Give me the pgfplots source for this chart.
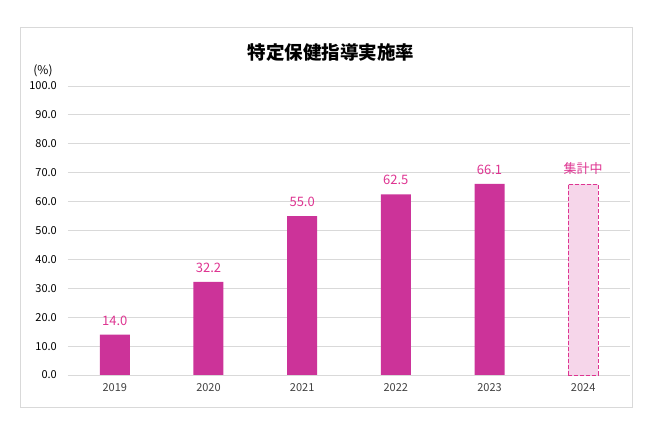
\documentclass[border=0pt]{standalone}
\usepackage{pgfplots}
\pgfplotsset{compat=1.18}
\usepackage{fontspec}
\setmainfont{Noto Sans CJK JP}
\definecolor{barc}{RGB}{204,51,153}
\definecolor{labc}{RGB}{222,52,145}
\definecolor{pinkfill}{RGB}{246,214,234}
\definecolor{gridc}{RGB}{217,217,217}
\definecolor{tickc}{RGB}{64,64,64}
\pgfplotsset{/pgf/number format/assume math mode=true}
\begin{document}
\begin{tikzpicture}[x=1pt,y=1pt]
\path[use as bounding box] (-68,-60) rectangle (599,375);
\draw[gridc, line width=0.8pt] (-48,-32) rectangle (564,348);
\node[font=\bfseries\fontsize{18.5}{22}\selectfont] at (263,322) {特定保健指導実施率};
\node[font=\fontsize{12}{14}\selectfont, text=black] at (-25,304) {(\%)};
\begin{axis}[at={(0,0)}, anchor=south west, scale only axis,
  width=562pt, height=289pt,
  xmin=-0.5, xmax=5.5, ymin=0, ymax=100,
  xtick={0,1,2,3,4,5},
  xticklabels={2019,2020,2021,2022,2023,2024},
  ytick={0,10,...,100},
  yticklabel={\pgfmathprintnumber[fixed,fixed zerofill,precision=1]{\tick}},
  ymajorgrids, grid style={gridc, line width=0.8pt},
  axis line style={draw=none},
  major tick length=0pt,
  tick style={draw=none},
  yticklabel style={font=\fontsize{11}{13}\selectfont, text=black, anchor=east, inner sep=0pt, xshift=-11pt},
  xticklabel style={font=\fontsize{11}{13}\selectfont, text=tickc, anchor=north, inner sep=0pt, yshift=-8pt},
  ybar, bar width=30pt, bar shift=0pt,
  nodes near coords style={font=\fontsize{13}{15}\selectfont, text=labc, anchor=south, inner sep=0pt, yshift=9pt},
  clip=false,
]
\addplot[draw=none, fill=barc,
  nodes near coords={\pgfmathprintnumber[fixed,fixed zerofill,precision=1]{\pgfplotspointmeta}}]
  coordinates {(0,14.0) (1,32.2) (2,55.0) (3,62.5) (4,66.1)};
\addplot[draw=labc, line width=0.9pt, dash pattern=on 4pt off 2pt, fill=pinkfill,
  nodes near coords={集計中}]
  coordinates {(5,66.1)};
\end{axis}
\end{tikzpicture}
\end{document}
